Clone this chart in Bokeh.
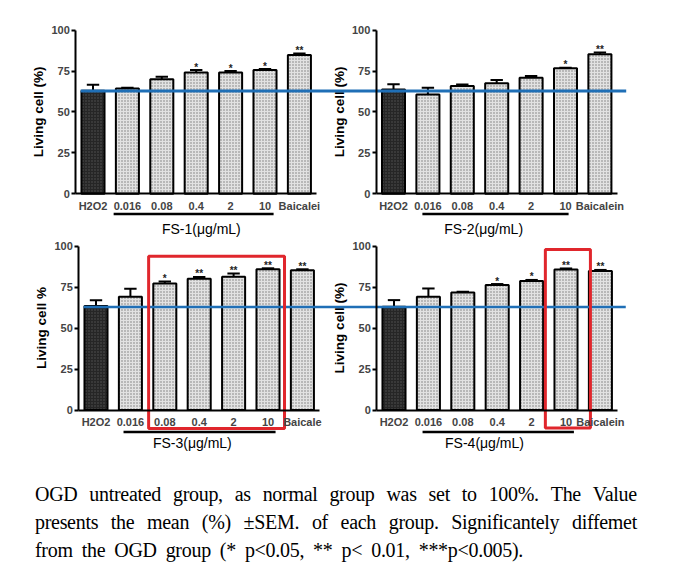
import math
from bokeh.plotting import figure
from bokeh.models import Range1d, LinearAxis, FixedTicker, Div
from bokeh.layouts import column
from bokeh.embed import file_html
from bokeh.resources import INLINE
from bokeh.core.properties import value

# ---------------- data ----------------
categories = ["H2O2", "0.016", "0.08", "0.4", "2", "10", "Baicalein"]
tick_labels_fs1 = ["H2O2", "0.016", "0.08", "0.4", "2", "10", "Baicalei"]
tick_labels_fs2 = ["H2O2", "0.016", "0.08", "0.4", "2", "10", "Baicalein"]
tick_labels_fs3 = ["H2O2", "0.016", "0.08", "0.4", "2", "10", "Baicale"]
tick_labels_fs4 = ["H2O2", "0.016", "0.08", "0.4", "2", "10", "Baicalein"]

fs1_mean = [63.0, 64.4, 70.0, 74.2, 74.2, 75.6, 84.9]
fs1_sem = [3.6, 0.4, 1.5, 1.4, 0.8, 0.6, 0.9]
fs1_sig = ["", "", "", "*", "*", "*", "**"]

fs2_mean = [63.8, 60.7, 65.8, 67.5, 70.9, 76.7, 85.3]
fs2_sem = [3.1, 4.1, 1.0, 2.0, 1.1, 0.4, 1.0]
fs2_sig = ["", "", "", "", "", "*", "**"]

fs3_mean = [63.4, 69.1, 77.2, 80.1, 81.3, 85.8, 85.2]
fs3_sem = [3.5, 4.9, 1.1, 1.0, 1.9, 0.6, 0.6]
fs3_sig = ["", "", "*", "**", "**", "**", "**"]

fs4_mean = [63.0, 69.1, 71.7, 76.2, 78.7, 85.7, 84.8]
fs4_sem = [4.0, 5.0, 0.4, 0.6, 0.6, 0.6, 0.6]
fs4_sig = ["", "", "", "*", "*", "**", "**"]

ogd_level = 62.8
y_ticks = [0, 25, 50, 75, 100]
y_labels = ["Living cell (%)", "Living cell (%)", "Living cell %", "Living cell (%)"]
x_titles = ["FS-1(\u03bcg/mL)", "FS-2(\u03bcg/mL)", "FS-3(\u03bcg/mL)", "FS-4(\u03bcg/mL)"]

caption_lines = [
    "OGD untreated group, as normal group was set to 100%. The Value",
    "presents the mean (%) \u00b1SEM. of each group. Significantely diffemet",
    "from the OGD group (* p<0.05, ** p< 0.01, ***p<0.005).",
]

# ---------------- layout constants ----------------
W = 697
STEP = 34.4          # px per category
BAR_W = 0.67
SANS = "Liberation Sans"
BLUE = "#1f6fb6"
RED = "#e0262c"


def make_row(height, y_zero_px, px_per_unit, x0_left, x0_right):
    y_start = -(height - y_zero_px) / px_per_unit
    y_end = y_zero_px / px_per_unit
    p = figure(width=W, height=height, output_backend="svg", toolbar_location=None,
               x_axis_type=None, y_axis_type=None,
               x_range=Range1d(-x0_left / STEP, (W - x0_left) / STEP),
               y_range=Range1d(y_start, y_end),
               min_border=0, outline_line_color=None,
               background_fill_color="white", border_fill_color="white")
    p.extra_x_ranges = {"R": Range1d(-x0_right / STEP, (W - x0_right) / STEP)}
    p.xgrid.visible = False
    p.ygrid.visible = False
    return p


def draw_panel(p, rn, means, sems, sigs, xlabels, ylabel, xtitle, title_x, uline, uline_y, title_y):
    xs = list(range(len(means)))
    tops = [m + s for m, s in zip(means, sems)]
    # bars
    p.vbar(x=xs[1:], top=means[1:], width=BAR_W, bottom=0, x_range_name=rn,
           fill_color="#e2e2e2", hatch_pattern="dot", hatch_color="#777777",
           hatch_scale=3, hatch_weight=1, line_color="black", line_width=2)
    p.vbar(x=xs[:1], top=means[:1], width=BAR_W, bottom=0, x_range_name=rn,
           fill_color="#262626", hatch_pattern="dot", hatch_color="#555555",
           hatch_scale=3, hatch_weight=1, line_color="black", line_width=2)
    # error bars (upper only)
    p.segment(x0=xs, y0=means, x1=xs, y1=tops, x_range_name=rn, line_color="black", line_width=2)
    p.segment(x0=[x - 0.18 for x in xs], y0=tops, x1=[x + 0.18 for x in xs], y1=tops,
              x_range_name=rn, line_color="black", line_width=2)
    # significance stars
    p.text(x=xs, y=tops, text=sigs, x_range_name=rn, text_align="center",
           text_baseline="alphabetic", y_offset=-3, text_font=value(SANS),
           text_font_style="bold", text_font_size="10px", text_color="#222222")
    # axes
    yax = LinearAxis(x_range_name=rn, fixed_location=-0.5, bounds=(0, 100),
                     ticker=FixedTicker(ticks=y_ticks))
    yax.axis_line_width = 2
    yax.major_tick_line_width = 2
    yax.major_tick_in = 0
    yax.major_tick_out = 4
    yax.minor_tick_line_color = None
    yax.major_label_standoff = 2
    yax.major_label_text_font = SANS
    yax.major_label_text_font_style = "bold"
    yax.major_label_text_font_size = "11px"
    p.add_layout(yax, "left")
    # y axis title
    p.text(x=[-1.57], y=[50], text=[ylabel], x_range_name=rn, angle=math.pi / 2,
           text_align="center", text_baseline="middle", text_font=value(SANS),
           text_font_style="bold", text_font_size="13.5px", text_color="black")

    xax = LinearAxis(x_range_name=rn, fixed_location=0, bounds=(-0.5, 6.5),
                     ticker=FixedTicker(ticks=xs),
                     major_label_overrides={i: lab for i, lab in enumerate(xlabels)})
    xax.axis_line_width = 2
    xax.major_tick_line_color = None
    xax.minor_tick_line_color = None
    xax.major_tick_out = 0
    xax.major_tick_in = 0
    xax.major_label_standoff = 6
    xax.major_label_text_font = SANS
    xax.major_label_text_font_style = "bold"
    xax.major_label_text_font_size = "11px"
    p.add_layout(xax, "below")

    # group underline and title
    p.segment(x0=[uline[0]], y0=[uline_y], x1=[uline[1]], y1=[uline_y], x_range_name=rn,
              line_color="black", line_width=2.5)
    p.text(x=[title_x], y=[title_y], text=[xtitle], x_range_name=rn, text_align="center",
           text_baseline="middle", text_font=value(SANS), text_font_size="14px",
           text_color="black")


TOP_H = 239
BOT_H = 221

# ---- top row ----
top = make_row(TOP_H, 193.2, 1.635, 92.5, 393.0)
draw_panel(top, "default", fs1_mean, fs1_sem, fs1_sig, tick_labels_fs1, y_labels[0],
           x_titles[0], 3.15, (0.6, 5.25), -12.4, -21.3)
draw_panel(top, "R", fs2_mean, fs2_sem, fs2_sig, tick_labels_fs2, y_labels[1],
           x_titles[1], 2.62, (0.84, 5.09), -12.4, -21.3)
top.segment(x0=[-0.36], y0=[ogd_level], x1=[15.5], y1=[ogd_level], line_color=BLUE, line_width=3)

# ---- bottom row ----
bot = make_row(BOT_H, 409.5 - TOP_H, 1.64, 95.5, 393.5)
draw_panel(bot, "default", fs3_mean, fs3_sem, fs3_sig, tick_labels_fs3, y_labels[2],
           x_titles[2], 2.8, (0.8, 5.22), -13.4, -20.4)
draw_panel(bot, "R", fs4_mean, fs4_sem, fs4_sig, tick_labels_fs4, y_labels[3],
           x_titles[3], 2.63, (0.83, 5.23), -13.4, -20.4)
bot.segment(x0=[-0.36], y0=[ogd_level], x1=[15.4], y1=[ogd_level], line_color=BLUE, line_width=2.5)
# red highlight boxes
bot.quad(left=[1.53], right=[5.48], bottom=[-11.3], top=[93.8], fill_color=None,
         line_color=RED, line_width=3)
bot.quad(left=[4.4], right=[5.71], bottom=[-11.0], top=[97.9], fill_color=None,
         line_color=RED, line_width=3, x_range_name="R")

# ---- caption ----
def esc(s):
    return s.replace("&", "&amp;").replace("<", "&lt;").replace(">", "&gt;")

line_html = []
for i, ln in enumerate(caption_lines):
    words = "".join(f"<span>{esc(w)}</span>" for w in ln.split(" "))
    if i < len(caption_lines) - 1:
        style = "display:flex;justify-content:space-between;width:602px;white-space:nowrap;"
    else:
        style = "display:flex;column-gap:9px;white-space:nowrap;"
    line_html.append(f'<div style="{style}">{words}</div>')
caption_html = ('<div style="font-family:\'Liberation Serif\',\'Times New Roman\',serif;'
                'font-size:20px;line-height:28px;letter-spacing:-0.3px;color:#000;'
                'padding:20px 0 0 35px;">' + "".join(line_html) + '</div>')
caption = Div(text=caption_html, width=W, height=585 - TOP_H - BOT_H, margin=0)

layout = column(top, bot, caption, spacing=0)
open("out.html", "w").write(file_html(layout, INLINE))
